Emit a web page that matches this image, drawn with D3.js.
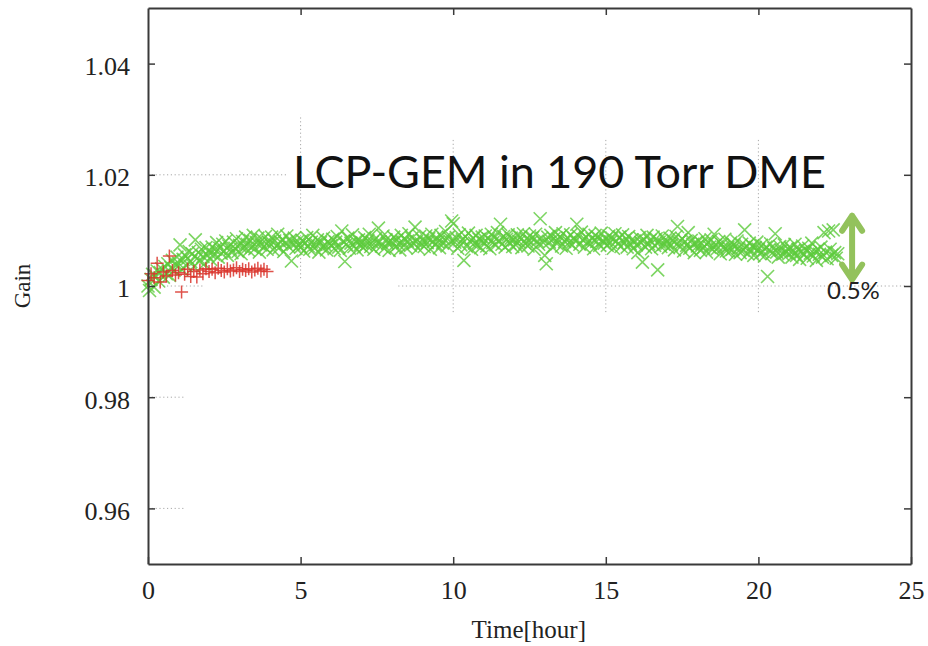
<!DOCTYPE html>
<html lang="en">
  <head>
    <meta charset="UTF-8" />
    <script src="https://cdn.jsdelivr.net/npm/d3@7/dist/d3.min.js"></script>
    <style>
      body {
        margin: 0;
        background: #fff;
      }
      .tick text {
        font-family: "Liberation Serif", "DejaVu Serif", serif;
        font-size: 26px;
        fill: #222;
      }
    </style>
    <title>LCP-GEM gain vs time</title>
  </head>
  <body>
    <div class="canvas"></div>
    <script>
      // ---- data ----
      const xTicks = [0, 5, 10, 15, 20, 25];
      const yTicks = [0.96, 0.98, 1.0, 1.02, 1.04];

      // green "x" series, one value every 0.05 h starting at t = 0
      const greenStep = 0.05;
      const greenGain = [
        1.0000, 0.9992, 1.0012, 1.0021, 0.9998, 1.0018, 1.0027, 1.0009, 1.0024, 1.0031, 1.0016, 1.0035, 1.0022, 1.0040, 1.0019, 1.0033, 1.0046, 1.0028, 1.0038, 1.0052,
        1.0041, 1.0074, 1.0030, 1.0048, 1.0056, 1.0037, 1.0050, 1.0062, 1.0044, 1.0058, 1.0035, 1.0083, 1.0049, 1.0060, 1.0045, 1.0066, 1.0053, 1.0040, 1.0069, 1.0055,
        1.0061, 1.0048, 1.0070, 1.0057, 1.0066, 1.0078, 1.0052, 1.0068, 1.0059, 1.0075, 1.0063, 1.0081, 1.0055, 1.0072, 1.0066, 1.0060, 1.0079, 1.0068, 1.0085, 1.0062,
        1.0073, 1.0058, 1.0080, 1.0069, 1.0088, 1.0075, 1.0064, 1.0082, 1.0070, 1.0091, 1.0067, 1.0078, 1.0086, 1.0061, 1.0074, 1.0083, 1.0071, 1.0089, 1.0066, 1.0079,
        1.0076, 1.0088, 1.0065, 1.0081, 1.0072, 1.0093, 1.0069, 1.0079, 1.0084, 1.0062, 1.0077, 1.0090, 1.0071, 1.0082, 1.0045, 1.0075, 1.0086, 1.0068, 1.0080, 1.0073,
        1.0070, 1.0082, 1.0063, 1.0077, 1.0087, 1.0072, 1.0066, 1.0079, 1.0091, 1.0068, 1.0075, 1.0083, 1.0061, 1.0078, 1.0070, 1.0086, 1.0074, 1.0065, 1.0080, 1.0076,
        1.0073, 1.0084, 1.0067, 1.0079, 1.0089, 1.0070, 1.0064, 1.0099, 1.0081, 1.0044, 1.0075, 1.0086, 1.0068, 1.0077, 1.0092, 1.0071, 1.0080, 1.0065, 1.0083, 1.0074,
        1.0078, 1.0069, 1.0087, 1.0074, 1.0082, 1.0093, 1.0071, 1.0079, 1.0066, 1.0085, 1.0076, 1.0104, 1.0080, 1.0072, 1.0090, 1.0068, 1.0083, 1.0077, 1.0064, 1.0081,
        1.0079, 1.0088, 1.0070, 1.0083, 1.0075, 1.0065, 1.0091, 1.0078, 1.0084, 1.0069, 1.0081, 1.0094, 1.0073, 1.0086, 1.0077, 1.0106, 1.0080, 1.0068, 1.0089, 1.0076,
        1.0082, 1.0071, 1.0090, 1.0078, 1.0085, 1.0066, 1.0093, 1.0080, 1.0074, 1.0087, 1.0079, 1.0069, 1.0091, 1.0077, 1.0084, 1.0098, 1.0072, 1.0088, 1.0080, 1.0117,
        1.0112, 1.0079, 1.0087, 1.0068, 1.0092, 1.0074, 1.0083, 1.0046, 1.0089, 1.0071, 1.0095, 1.0080, 1.0066, 1.0086, 1.0077, 1.0091, 1.0073, 1.0084, 1.0069, 1.0088,
        1.0079, 1.0090, 1.0072, 1.0085, 1.0067, 1.0093, 1.0078, 1.0087, 1.0074, 1.0096, 1.0082, 1.0111, 1.0075, 1.0089, 1.0070, 1.0084, 1.0092, 1.0077, 1.0086, 1.0071,
        1.0083, 1.0074, 1.0092, 1.0080, 1.0088, 1.0069, 1.0094, 1.0077, 1.0085, 1.0072, 1.0090, 1.0079, 1.0087, 1.0066, 1.0093, 1.0081, 1.0075, 1.0121, 1.0086, 1.0078,
        1.0055, 1.0040, 1.0088, 1.0079, 1.0091, 1.0070, 1.0085, 1.0096, 1.0076, 1.0083, 1.0089, 1.0072, 1.0094, 1.0080, 1.0068, 1.0087, 1.0078, 1.0092, 1.0074, 1.0086,
        1.0081, 1.0111, 1.0090, 1.0075, 1.0097, 1.0083, 1.0070, 1.0088, 1.0079, 1.0093, 1.0076, 1.0085, 1.0067, 1.0091, 1.0080, 1.0087, 1.0073, 1.0095, 1.0082, 1.0077,
        1.0084, 1.0073, 1.0090, 1.0079, 1.0086, 1.0068, 1.0094, 1.0081, 1.0075, 1.0088, 1.0071, 1.0092, 1.0078, 1.0085, 1.0070, 1.0089, 1.0076, 1.0083, 1.0067, 1.0081,
        1.0074, 1.0060, 1.0087, 1.0078, 1.0043, 1.0083, 1.0070, 1.0091, 1.0076, 1.0082, 1.0067, 1.0088, 1.0073, 1.0085, 1.0029, 1.0079, 1.0071, 1.0090, 1.0075, 1.0083,
        1.0077, 1.0069, 1.0086, 1.0074, 1.0082, 1.0065, 1.0089, 1.0107, 1.0079, 1.0071, 1.0085, 1.0063, 1.0080, 1.0073, 1.0096, 1.0068, 1.0082, 1.0075, 1.0060, 1.0078,
        1.0072, 1.0081, 1.0064, 1.0076, 1.0069, 1.0085, 1.0061, 1.0078, 1.0070, 1.0083, 1.0066, 1.0093, 1.0074, 1.0067, 1.0080, 1.0058, 1.0075, 1.0069, 1.0084, 1.0063,
        1.0070, 1.0062, 1.0078, 1.0066, 1.0074, 1.0057, 1.0081, 1.0068, 1.0060, 1.0075, 1.0064, 1.0101, 1.0071, 1.0058, 1.0077, 1.0065, 1.0072, 1.0055, 1.0069, 1.0079,
        1.0066, 1.0058, 1.0073, 1.0062, 1.0054, 1.0070, 1.0017, 1.0065, 1.0076, 1.0059, 1.0068, 1.0094, 1.0061, 1.0052, 1.0071, 1.0064, 1.0057, 1.0074, 1.0060, 1.0067,
        1.0058, 1.0069, 1.0052, 1.0063, 1.0075, 1.0055, 1.0066, 1.0048, 1.0061, 1.0072, 1.0057, 1.0064, 1.0050, 1.0068, 1.0059, 1.0077, 1.0054, 1.0062, 1.0046, 1.0066,
        1.0057, 1.0070, 1.0052, 1.0096, 1.0061, 1.0049, 1.0099, 1.0066, 1.0055, 1.0101, 1.0060, 1.0050, 1.0058,
      ];

      // red "+" series, one value every 0.1 h starting at t = 0
      const redStep = 0.1;
      const redGain = [
        1.0010, 1.0022, 1.0015, 1.0041, 1.0007, 1.0025, 1.0018, 1.0054, 1.0028, 1.0020,
        1.0024, 0.9989, 1.0021, 1.0030, 1.0017, 1.0026, 1.0016, 1.0029, 1.0022, 1.0031,
        1.0026, 1.0030, 1.0024, 1.0032, 1.0028, 1.0025, 1.0031, 1.0027, 1.0029, 1.0033,
        1.0026, 1.0030, 1.0028, 1.0031, 1.0025, 1.0029, 1.0032, 1.0027, 1.0030, 1.0026,
      ];

      // visible pieces of the dotted grid (the rest is covered in the original)
      const hGrid = [
        { y: 1.02, x0: 0, x1: 4.6 },
        { y: 1.0, x0: 0, x1: 1.8 },
        { y: 1.0, x0: 8.2, x1: 24.8 },
        { y: 0.98, x0: 0, x1: 1.2 },
        { y: 0.96, x0: 0, x1: 1.2 },
      ];
      const vGrid = [
        { x: 5, y0: 1.0014, y1: 1.0308 },
        { x: 10, y0: 0.9953, y1: 1.0267 },
        { x: 15, y0: 0.9953, y1: 1.0267 },
        { x: 20, y0: 0.9953, y1: 1.0267 },
      ];

      // 0.5% marker
      const arrowT = 23.07;
      const arrowGain = [1.0008, 1.013];

      // ---- layout ----
      const margin = { top: 8, right: 17, bottom: 82, left: 148 };
      const W = 928,
        H = 646;
      const width = W - margin.left - margin.right;
      const height = H - margin.top - margin.bottom;

      const x = d3.scaleLinear().domain([0, 25]).range([0, width]);
      const y = d3.scaleLinear().domain([0.95, 1.05]).range([height, 0]);

      const svg = d3
        .select(".canvas")
        .append("svg")
        .attr("width", W)
        .attr("height", H);

      const g = svg
        .append("g")
        .attr("transform", `translate(${margin.left},${margin.top})`);

      // grid
      const gridStyle = (sel) =>
        sel
          .attr("stroke", "#a8a8a8")
          .attr("stroke-width", 1)
          .attr("stroke-dasharray", "1.2,2.6");

      g.append("g")
        .selectAll("line")
        .data(hGrid)
        .join("line")
        .attr("x1", (d) => x(d.x0))
        .attr("x2", (d) => x(d.x1))
        .attr("y1", (d) => y(d.y))
        .attr("y2", (d) => y(d.y))
        .call(gridStyle);

      g.append("g")
        .selectAll("line")
        .data(vGrid)
        .join("line")
        .attr("x1", (d) => x(d.x))
        .attr("x2", (d) => x(d.x))
        .attr("y1", (d) => y(d.y0))
        .attr("y2", (d) => y(d.y1))
        .call(gridStyle);

      const green = greenGain.map((v, i) => ({ t: i * greenStep, v }));
      const red = redGain.map((v, i) => ({ t: i * redStep, v }));

      // green crosses
      const xs = 6.5;
      g.append("g")
        .selectAll("path")
        .data(green)
        .join("path")
        .attr("d", (d) => {
          const cx = x(d.t),
            cy = y(d.v);
          return `M${cx - xs},${cy - xs}L${cx + xs},${cy + xs}M${cx - xs},${cy + xs}L${cx + xs},${cy - xs}`;
        })
        .attr("stroke", "#5ccb3c")
        .attr("stroke-opacity", 0.8)
        .attr("stroke-width", 1.6)
        .attr("fill", "none");

      // red plus signs
      const ps = 6.5;
      g.append("g")
        .selectAll("path")
        .data(red)
        .join("path")
        .attr("d", (d) => {
          const cx = x(d.t),
            cy = y(d.v);
          return `M${cx - ps},${cy}L${cx + ps},${cy}M${cx},${cy - ps}L${cx},${cy + ps}`;
        })
        .attr("stroke", "#d9342c")
        .attr("stroke-opacity", 0.85)
        .attr("stroke-width", 1.5)
        .attr("fill", "none");

      // axes (gnuplot style: inward ticks, mirrored on top/right)
      const axisStyle = (sel) => {
        sel.select(".domain").attr("stroke", "#3a3a3a").attr("stroke-width", 2);
        sel.selectAll(".tick line").attr("stroke", "#3a3a3a").attr("stroke-width", 1.5);
      };

      g.append("g")
        .attr("transform", `translate(0,${height})`)
        .call(
          d3.axisBottom(x).tickValues(xTicks).tickSize(-7).tickSizeOuter(0).tickPadding(17)
        )
        .call(axisStyle);

      g.append("g")
        .call(
          d3
            .axisLeft(y)
            .tickValues(yTicks)
            .tickFormat((d) => (d === 1 ? "1" : d3.format(".2f")(d)))
            .tickSize(-7)
            .tickSizeOuter(0)
            .tickPadding(18)
        )
        .call(axisStyle)
        .selectAll(".tick text")
        .attr("dy", "0.42em");

      g.append("g")
        .call(d3.axisTop(x).tickValues(xTicks.slice(1, -1)).tickSize(-7).tickSizeOuter(0).tickFormat(""))
        .call(axisStyle);

      g.append("g")
        .attr("transform", `translate(${width},0)`)
        .call(d3.axisRight(y).tickValues(yTicks).tickSize(-7).tickSizeOuter(0).tickFormat(""))
        .call(axisStyle);

      // axis titles
      svg
        .append("text")
        .attr("transform", `translate(30,${margin.top + y(1.0)}) rotate(-90)`)
        .attr("text-anchor", "middle")
        .style("font-family", "Liberation Serif, serif")
        .style("font-size", "23px")
        .attr("fill", "#222")
        .text("Gain");

      svg
        .append("text")
        .attr("x", margin.left + x(15) - 77)
        .attr("y", 638)
        .attr("text-anchor", "middle")
        .style("font-family", "Liberation Serif, serif")
        .style("font-size", "25px")
        .attr("fill", "#222")
        .text("Time[hour]");

      // annotations
      g.append("text")
        .attr("x", x(4.75))
        .attr("y", y(1.0177))
        .attr("textLength", 533)
        .attr("lengthAdjust", "spacingAndGlyphs")
        .style("font-family", "Lato, 'Open Sans', sans-serif")
        .style("font-size", "44px")
        .attr("fill", "#111")
        .text("LCP-GEM in 190 Torr DME");

      const ax = x(arrowT),
        yTop = y(arrowGain[1]),
        yBot = y(arrowGain[0]);
      g.append("path")
        .attr(
          "d",
          `M${ax},${yTop + 2}L${ax},${yBot - 2}` +
            `M${ax - 10},${yTop + 17}L${ax},${yTop + 2}L${ax + 10},${yTop + 17}` +
            `M${ax - 10},${yBot - 17}L${ax},${yBot - 2}L${ax + 10},${yBot - 17}`
        )
        .attr("stroke", "#93c25c")
        .attr("stroke-width", 6)
        .attr("stroke-linecap", "round")
        .attr("stroke-linejoin", "round")
        .attr("fill", "none");

      g.append("text")
        .attr("x", x(arrowT) - 25)
        .attr("y", y(0.9976))
        .style("font-family", "Lato, 'Open Sans', sans-serif")
        .style("font-size", "24px")
        .attr("fill", "#222")
        .text("0.5%");
    </script>
  </body>
</html>
